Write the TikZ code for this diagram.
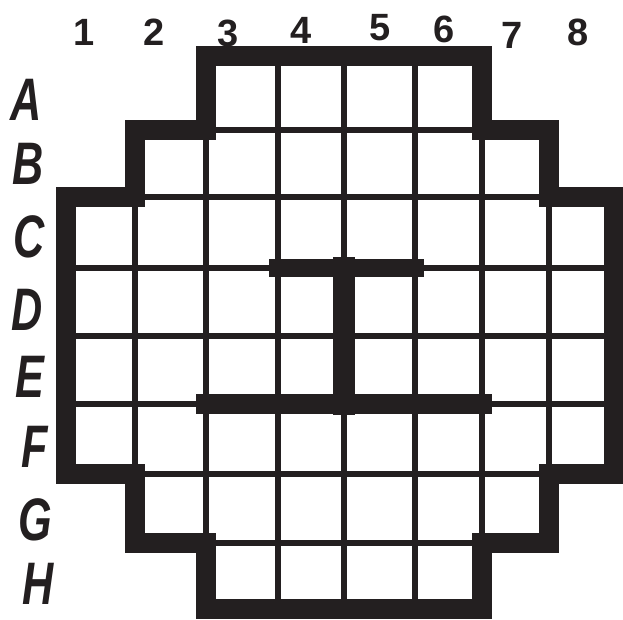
\documentclass[tikz,border=0pt]{standalone}
\usepackage{fontspec}
\setmainfont{Liberation Sans}
\definecolor{ink}{RGB}{35,31,32}
\begin{document}
\begin{tikzpicture}[x=1pt,y=-1pt,
  thinline/.style={draw=ink,line width=6pt,line cap=rect},
  wall/.style={draw=ink,line width=20pt,line join=miter,line cap=rect},
  collabel/.style={font=\fontsize{38}{38}\selectfont\bfseries,text=ink,inner sep=0pt},
  rowlabel/.style={font=\fontsize{60}{60}\selectfont\bfseries\itshape,text=ink,inner sep=0pt,xscale=0.72}]
\useasboundingbox[fill=white] (0,0) rectangle (623,619);
\foreach \xx [count=\i from 0] in {66,135,206,278,344,415,482,549,614}{
  \foreach \yy [count=\j from 0] in {56,130,197,268,336,404,474,543,609}{
    \coordinate (p-\i-\j) at (\xx,\yy);
  }
}
% thin grid lines
\draw[thinline] (p-2-1) -- (p-6-1);
\draw[thinline] (p-1-2) -- (p-7-2);
\draw[thinline] (p-0-3) -- (p-8-3);
\draw[thinline] (p-0-4) -- (p-8-4);
\draw[thinline] (p-0-5) -- (p-8-5);
\draw[thinline] (p-1-6) -- (p-7-6);
\draw[thinline] (p-2-7) -- (p-6-7);
\draw[thinline] (p-1-2) -- (p-1-6);
\draw[thinline] (p-2-1) -- (p-2-7);
\draw[thinline] (p-3-0) -- (p-3-8);
\draw[thinline] (p-4-0) -- (p-4-8);
\draw[thinline] (p-5-0) -- (p-5-8);
\draw[thinline] (p-6-1) -- (p-6-7);
\draw[thinline] (p-7-2) -- (p-7-6);
% outer wall
\draw[wall] (p-2-0) -- (p-6-0) -- (p-6-1) -- (p-7-1) -- (p-7-2) -- (p-8-2)
  -- (p-8-6) -- (p-7-6) -- (p-7-7) -- (p-6-7) -- (p-6-8) -- (p-2-8)
  -- (p-2-7) -- (p-1-7) -- (p-1-6) -- (p-0-6) -- (p-0-2) -- (p-1-2)
  -- (p-1-1) -- (p-2-1) -- cycle;
% inner walls
\draw[wall,line width=18pt] (p-3-3) -- (p-5-3);
\draw[wall,line width=22pt] (p-4-3) -- (p-4-5);
\draw[wall,line width=20pt] (p-2-5) -- (p-6-5);
% column labels
\node[collabel] (c1) at (84,32) {1};
\node[collabel] (c2) at (154,32) {2};
\node[collabel] (c3) at (228,33) {3};
\node[collabel] (c4) at (301,30) {4};
\node[collabel] (c5) at (380,28) {5};
\node[collabel] (c6) at (444,29) {6};
\node[collabel] (c7) at (512,35) {7};
\node[collabel] (c8) at (578,32) {8};
% row labels
\node[rowlabel] (rA) at (26,100) {A};
\node[rowlabel] (rB) at (28,164) {B};
\node[rowlabel] (rC) at (29,237) {C};
\node[rowlabel] (rD) at (27,310) {D};
\node[rowlabel] (rE) at (30,377) {E};
\node[rowlabel] (rF) at (35,447) {F};
\node[rowlabel] (rG) at (35,520) {G};
\node[rowlabel] (rH) at (38,584) {H};
\end{tikzpicture}
\end{document}
